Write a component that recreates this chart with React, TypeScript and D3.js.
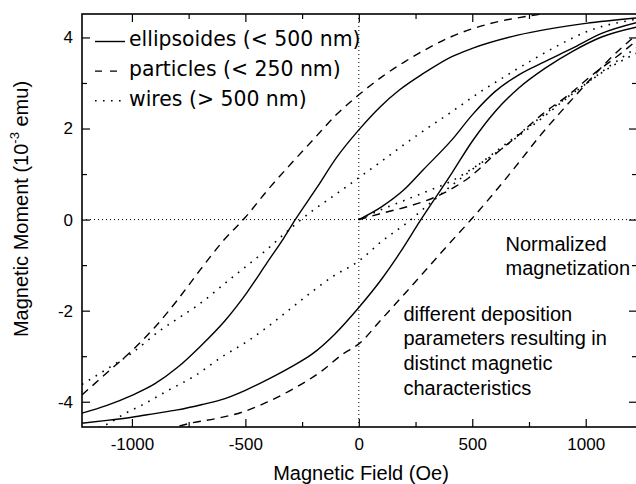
import React, { useEffect, useRef } from 'react';
import * as d3 from 'd3';

const W = 636;
const H = 484;
const box = { left: 82, right: 637, top: 14, bottom: 427 };

// ellipsoides (< 500 nm)
const ellUpperField = [-1220, -1110, -1000, -900, -800, -700, -590, -490, -405, -330, -280, -185, -100, 0, 95, 180, 285, 410, 500, 700, 1000, 1226];
const ellUpperMoment = [-4.25, -4.08, -3.86, -3.61, -3.25, -2.79, -2.22, -1.58, -0.95, -0.4, 0, 0.7, 1.35, 1.97, 2.48, 2.85, 3.21, 3.58, 3.76, 4.05, 4.31, 4.43];
const ellLowerField = [-1220, -1110, -1000, -900, -800, -690, -590, -500, -405, -300, -205, -105, 0, 100, 185, 270, 410, 500, 600, 705, 820, 940, 1070, 1226];
const ellLowerMoment = [-4.47, -4.41, -4.34, -4.26, -4.18, -4.06, -3.93, -3.75, -3.52, -3.24, -2.95, -2.51, -1.93, -1.31, -0.7, -0.03, 1.02, 1.72, 2.37, 2.89, 3.32, 3.69, 4.01, 4.23];
const ellInitField = [0, 100, 200, 285, 410, 500, 600, 705, 820, 940, 1070, 1226];
const ellInitMoment = [0, 0.28, 0.66, 1.1, 1.75, 2.3, 2.81, 3.18, 3.47, 3.76, 4.09, 4.33];

// particles (< 250 nm)
const parUpperField = [-1220, -1100, -1000, -900, -800, -700, -600, -500, -400, -300, -200, -100, 0, 100, 200, 300, 400, 500, 600, 700, 800];
const parUpperMoment = [-3.85, -3.32, -2.88, -2.37, -1.77, -1.11, -0.48, 0.05, 0.66, 1.22, 1.76, 2.3, 2.74, 3.13, 3.46, 3.75, 4.0, 4.19, 4.33, 4.43, 4.51];
const parLowerField = [-850, -750, -630, -515, -405, -290, -170, -70, 0, 100, 200, 300, 400, 500, 600, 700, 800, 900, 1000, 1100, 1226];
const parLowerMoment = [-4.62, -4.48, -4.37, -4.23, -4.01, -3.72, -3.35, -2.95, -2.73, -2.19, -1.64, -1.08, -0.52, 0.03, 0.61, 1.22, 1.85, 2.42, 2.97, 3.5, 4.07];
const parInitField = [0, 110, 225, 330, 410, 485, 600, 705, 805, 925, 1030, 1145, 1226];
const parInitMoment = [0, 0.15, 0.3, 0.48, 0.68, 0.92, 1.43, 1.86, 2.3, 2.74, 3.18, 3.61, 3.94];

// wires (> 500 nm)
const wirUpperField = [-1220, -1100, -1000, -877, -800, -715, -568, -406, -300, -200, -100, 0, 100, 200, 300, 410, 528, 646, 763, 881, 1000, 1226];
const wirUpperMoment = [-3.62, -3.25, -2.93, -2.44, -2.18, -1.9, -1.31, -0.66, -0.19, 0.21, 0.56, 0.92, 1.28, 1.65, 2.0, 2.37, 2.78, 3.15, 3.5, 3.83, 4.12, 4.4];
const wirLowerField = [-1180, -1112, -1031, -958, -840, -722, -605, -487, -406, -259, -112, 0, 100, 212, 300, 410, 500, 600, 700, 800, 900, 1000, 1100, 1226];
const wirLowerMoment = [-4.62, -4.5, -4.26, -4.08, -3.75, -3.43, -3.02, -2.66, -2.37, -1.79, -1.24, -0.91, -0.48, -0.07, 0.3, 0.75, 1.1, 1.48, 1.86, 2.24, 2.62, 2.98, 3.32, 3.66];
const wirInitField = [0, 100, 200, 300, 410, 500, 600, 700, 800, 900, 1000, 1100, 1226];
const wirInitMoment = [0, 0.22, 0.42, 0.62, 0.85, 1.12, 1.45, 1.82, 2.2, 2.6, 2.98, 3.35, 3.78];

const legendLabels = ['ellipsoides (< 500 nm)', 'particles (< 250 nm)', 'wires (> 500 nm)'];
const notes = ['Normalized', 'magnetization'];
const notes2 = ['different deposition', 'parameters resulting in', 'distinct magnetic', 'characteristics'];

const xMajor = [-1000, -500, 0, 500, 1000];
const xMinor = [-750, -250, 250, 750];
const yMajor = [-4, -2, 0, 2, 4];
const yMinor = [-3, -1, 1, 3];

const DASHES = ['none', '8,6', '1.6,6.4'];
const FONT = '"Liberation Sans", Arial, sans-serif';

const zip = (a: number[], b: number[]) => a.map((v, i) => [v, b[i]] as [number, number]);

const App: React.FC = () => {
  const ref = useRef<SVGSVGElement | null>(null);

  useEffect(() => {
    const svg = d3.select(ref.current);
    svg.selectAll('*').remove();

    const x = d3.scaleLinear().domain([-1220, 1226]).range([box.left, box.right]);
    const y = d3.scaleLinear().domain([-4.555, 4.515]).range([box.bottom, box.top]);

    svg.append('defs').append('clipPath').attr('id', 'plot-clip')
      .append('rect')
      .attr('x', box.left).attr('y', box.top)
      .attr('width', box.right - box.left).attr('height', box.bottom - box.top);

    // zero lines
    svg.append('line')
      .attr('x1', box.left).attr('x2', box.right)
      .attr('y1', y(0)).attr('y2', y(0))
      .attr('stroke', '#000').attr('stroke-width', 1).attr('stroke-dasharray', '1,3');
    svg.append('line')
      .attr('x1', x(0)).attr('x2', x(0))
      .attr('y1', box.top).attr('y2', box.bottom)
      .attr('stroke', '#000').attr('stroke-width', 1).attr('stroke-dasharray', '1,3');

    const series = [
      [zip(ellUpperField, ellUpperMoment), zip(ellLowerField, ellLowerMoment), zip(ellInitField, ellInitMoment)],
      [zip(parUpperField, parUpperMoment), zip(parLowerField, parLowerMoment), zip(parInitField, parInitMoment)],
      [zip(wirUpperField, wirUpperMoment), zip(wirLowerField, wirLowerMoment), zip(wirInitField, wirInitMoment)],
    ];

    const line = d3.line<[number, number]>()
      .x(d => x(d[0]))
      .y(d => y(d[1]))
      .curve(d3.curveMonotoneX);

    const curves = svg.append('g').attr('clip-path', 'url(#plot-clip)');
    series.forEach((branches, i) => {
      branches.forEach(b => {
        curves.append('path')
          .attr('d', line(b) || '')
          .attr('fill', 'none')
          .attr('stroke', '#000')
          .attr('stroke-width', i === 2 ? 1.6 : 1.4)
          .attr('stroke-dasharray', DASHES[i]);
      });
    });

    // axes, ticks inward
    const fmt = (d: d3.NumberValue) => String(d);
    const styleAxis = (g: d3.Selection<SVGGElement, unknown, null, undefined>) => {
      g.select('.domain').remove();
      g.selectAll('line').attr('stroke-width', 1.2);
      g.selectAll('text').attr('font-family', FONT).attr('font-size', 17).attr('fill', '#000');
    };

    svg.append('g').attr('transform', `translate(0,${box.bottom})`)
      .call(d3.axisBottom(x).tickValues(xMajor).tickSize(-8).tickPadding(11).tickFormat(fmt)).call(styleAxis);
    svg.append('g').attr('transform', `translate(0,${box.bottom})`)
      .call(d3.axisBottom(x).tickValues(xMinor).tickSize(-5).tickFormat(() => '')).call(styleAxis);
    svg.append('g').attr('transform', `translate(0,${box.top})`)
      .call(d3.axisTop(x).tickValues(xMajor).tickSize(-8).tickFormat(() => '')).call(styleAxis);
    svg.append('g').attr('transform', `translate(0,${box.top})`)
      .call(d3.axisTop(x).tickValues(xMinor).tickSize(-5).tickFormat(() => '')).call(styleAxis);

    svg.append('g').attr('transform', `translate(${box.left},0)`)
      .call(d3.axisLeft(y).tickValues(yMajor).tickSize(-8).tickPadding(9).tickFormat(fmt)).call(styleAxis);
    svg.append('g').attr('transform', `translate(${box.left},0)`)
      .call(d3.axisLeft(y).tickValues(yMinor).tickSize(-5).tickFormat(() => '')).call(styleAxis);
    svg.append('g').attr('transform', `translate(${box.right},0)`)
      .call(d3.axisRight(y).tickValues(yMajor).tickSize(-8).tickFormat(() => '')).call(styleAxis);
    svg.append('g').attr('transform', `translate(${box.right},0)`)
      .call(d3.axisRight(y).tickValues(yMinor).tickSize(-5).tickFormat(() => '')).call(styleAxis);

    svg.append('rect')
      .attr('x', box.left).attr('y', box.top)
      .attr('width', box.right - box.left).attr('height', box.bottom - box.top)
      .attr('fill', 'none').attr('stroke', '#000').attr('stroke-width', 1.6);

    // axis titles
    svg.append('text')
      .attr('x', 361).attr('y', 480)
      .attr('text-anchor', 'middle')
      .attr('font-family', FONT).attr('font-size', 20)
      .text('Magnetic Field (Oe)');

    const yt = svg.append('text')
      .attr('transform', 'translate(28,209) rotate(-90)')
      .attr('text-anchor', 'middle')
      .attr('font-family', FONT).attr('font-size', 20);
    yt.append('tspan').text('Magnetic Moment (10');
    yt.append('tspan').attr('font-size', 13).attr('dy', -9).text('-3');
    yt.append('tspan').attr('dy', 9).text(' emu)');

    // legend
    const legend = svg.append('g');
    legendLabels.forEach((label, i) => {
      const ly = 41.5 + i * 29.6;
      legend.append('line')
        .attr('x1', 95).attr('x2', 125)
        .attr('y1', ly).attr('y2', ly)
        .attr('stroke', '#000').attr('stroke-width', 1.4)
        .attr('stroke-dasharray', i === 0 ? 'none' : i === 1 ? '7,8' : '1.6,6.4');
      legend.append('text')
        .attr('x', 129).attr('y', ly + 4.3 + (i === 0 ? 0 : 0.5))
        .attr('font-family', '"DejaVu Sans", sans-serif').attr('font-size', 20.4)
        .text(label);
    });

    // notes
    notes.forEach((t, i) => {
      svg.append('text')
        .attr('x', 505.5).attr('y', 250.5 + i * 24)
        .attr('font-family', FONT).attr('font-size', 20)
        .text(t);
    });
    notes2.forEach((t, i) => {
      svg.append('text')
        .attr('x', 403.5).attr('y', 320.5 + i * 24.7)
        .attr('font-family', FONT).attr('font-size', 20)
        .text(t);
    });
  }, []);

  return (
    <svg
      ref={ref}
      width={W}
      height={H}
      style={{ position: 'absolute', left: 0, top: 0, background: '#fff' }}
    />
  );
};

export default App;
